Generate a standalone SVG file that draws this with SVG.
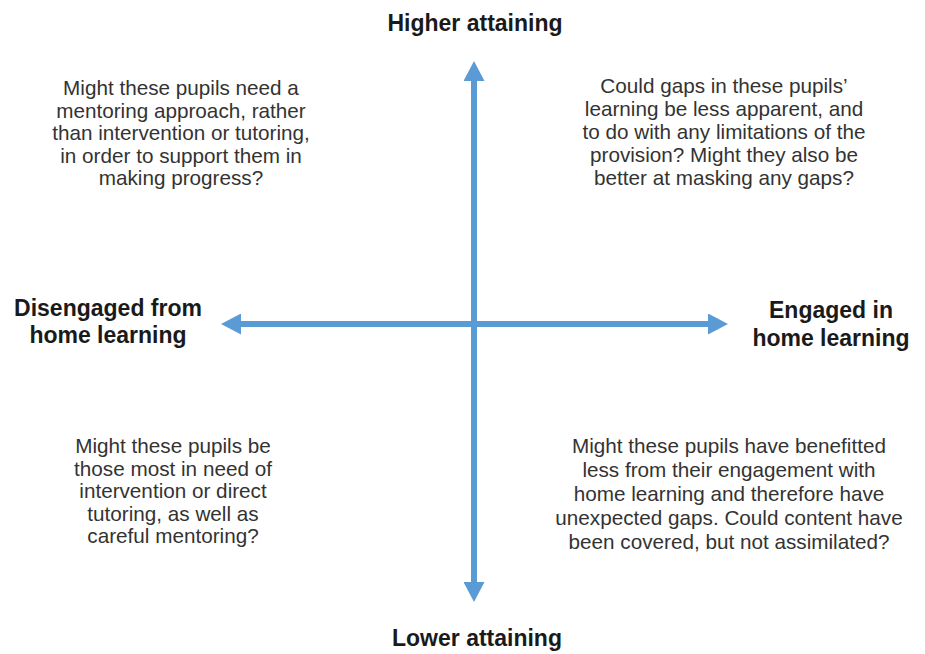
<svg xmlns="http://www.w3.org/2000/svg" width="925" height="654" viewBox="0 0 925 654">
<style>
.lbl{font-family:"Liberation Sans",Arial,sans-serif;font-weight:bold;font-size:23px;fill:#1a1a1a;text-anchor:middle}
.body{font-family:"Liberation Sans",Arial,sans-serif;font-size:20.7px;fill:#333;text-anchor:middle}
.axis{stroke:#5b9bd5;stroke-width:6;fill:none}
</style>
<defs>
<marker id="ah" viewBox="0 0 20 21" refX="0" refY="10.5" markerWidth="20" markerHeight="21" markerUnits="userSpaceOnUse" orient="auto-start-reverse">
<path d="M0,0 L20,10.5 L0,21 Z" fill="#5b9bd5"/>
</marker>
</defs>
<rect width="925" height="654" fill="#fff"/>
<g id="connectors">
<line class="axis" x1="474" y1="81" x2="474" y2="582" marker-start="url(#ah)" marker-end="url(#ah)"/>
<line class="axis" x1="241" y1="324" x2="708" y2="324" marker-start="url(#ah)" marker-end="url(#ah)"/>
</g>
<g id="higher"><text class="lbl" x="475" y="31">Higher attaining</text></g>
<g id="lower"><text class="lbl" x="477" y="646">Lower attaining</text></g>
<g id="disengaged"><text class="lbl" x="108" y="316">Disengaged from</text><text class="lbl" x="108" y="343">home learning</text></g>
<g id="engaged"><text class="lbl" x="831" y="318">Engaged in</text><text class="lbl" x="831" y="346">home learning</text></g>
<g id="q-top-left">
<text class="body" x="181" y="95">Might these pupils need a</text>
<text class="body" x="181" y="117.5">mentoring approach, rather</text>
<text class="body" x="181" y="140">than intervention or tutoring,</text>
<text class="body" x="181" y="162.5">in order to support them in</text>
<text class="body" x="181" y="185">making progress?</text>
</g>
<g id="q-top-right">
<text class="body" x="724" y="93">Could gaps in these pupils’</text>
<text class="body" x="724" y="116">learning be less apparent, and</text>
<text class="body" x="724" y="139">to do with any limitations of the</text>
<text class="body" x="724" y="162">provision? Might they also be</text>
<text class="body" x="724" y="185">better at masking any gaps?</text>
</g>
<g id="q-bottom-left">
<text class="body" x="173" y="453">Might these pupils be</text>
<text class="body" x="173" y="475.5">those most in need of</text>
<text class="body" x="173" y="498">intervention or direct</text>
<text class="body" x="173" y="520.5">tutoring, as well as</text>
<text class="body" x="173" y="543">careful mentoring?</text>
</g>
<g id="q-bottom-right">
<text class="body" x="729" y="453">Might these pupils have benefitted</text>
<text class="body" x="729" y="477">less from their engagement with</text>
<text class="body" x="729" y="501">home learning and therefore have</text>
<text class="body" x="729" y="525">unexpected gaps. Could content have</text>
<text class="body" x="729" y="549">been covered, but not assimilated?</text>
</g>
</svg>
